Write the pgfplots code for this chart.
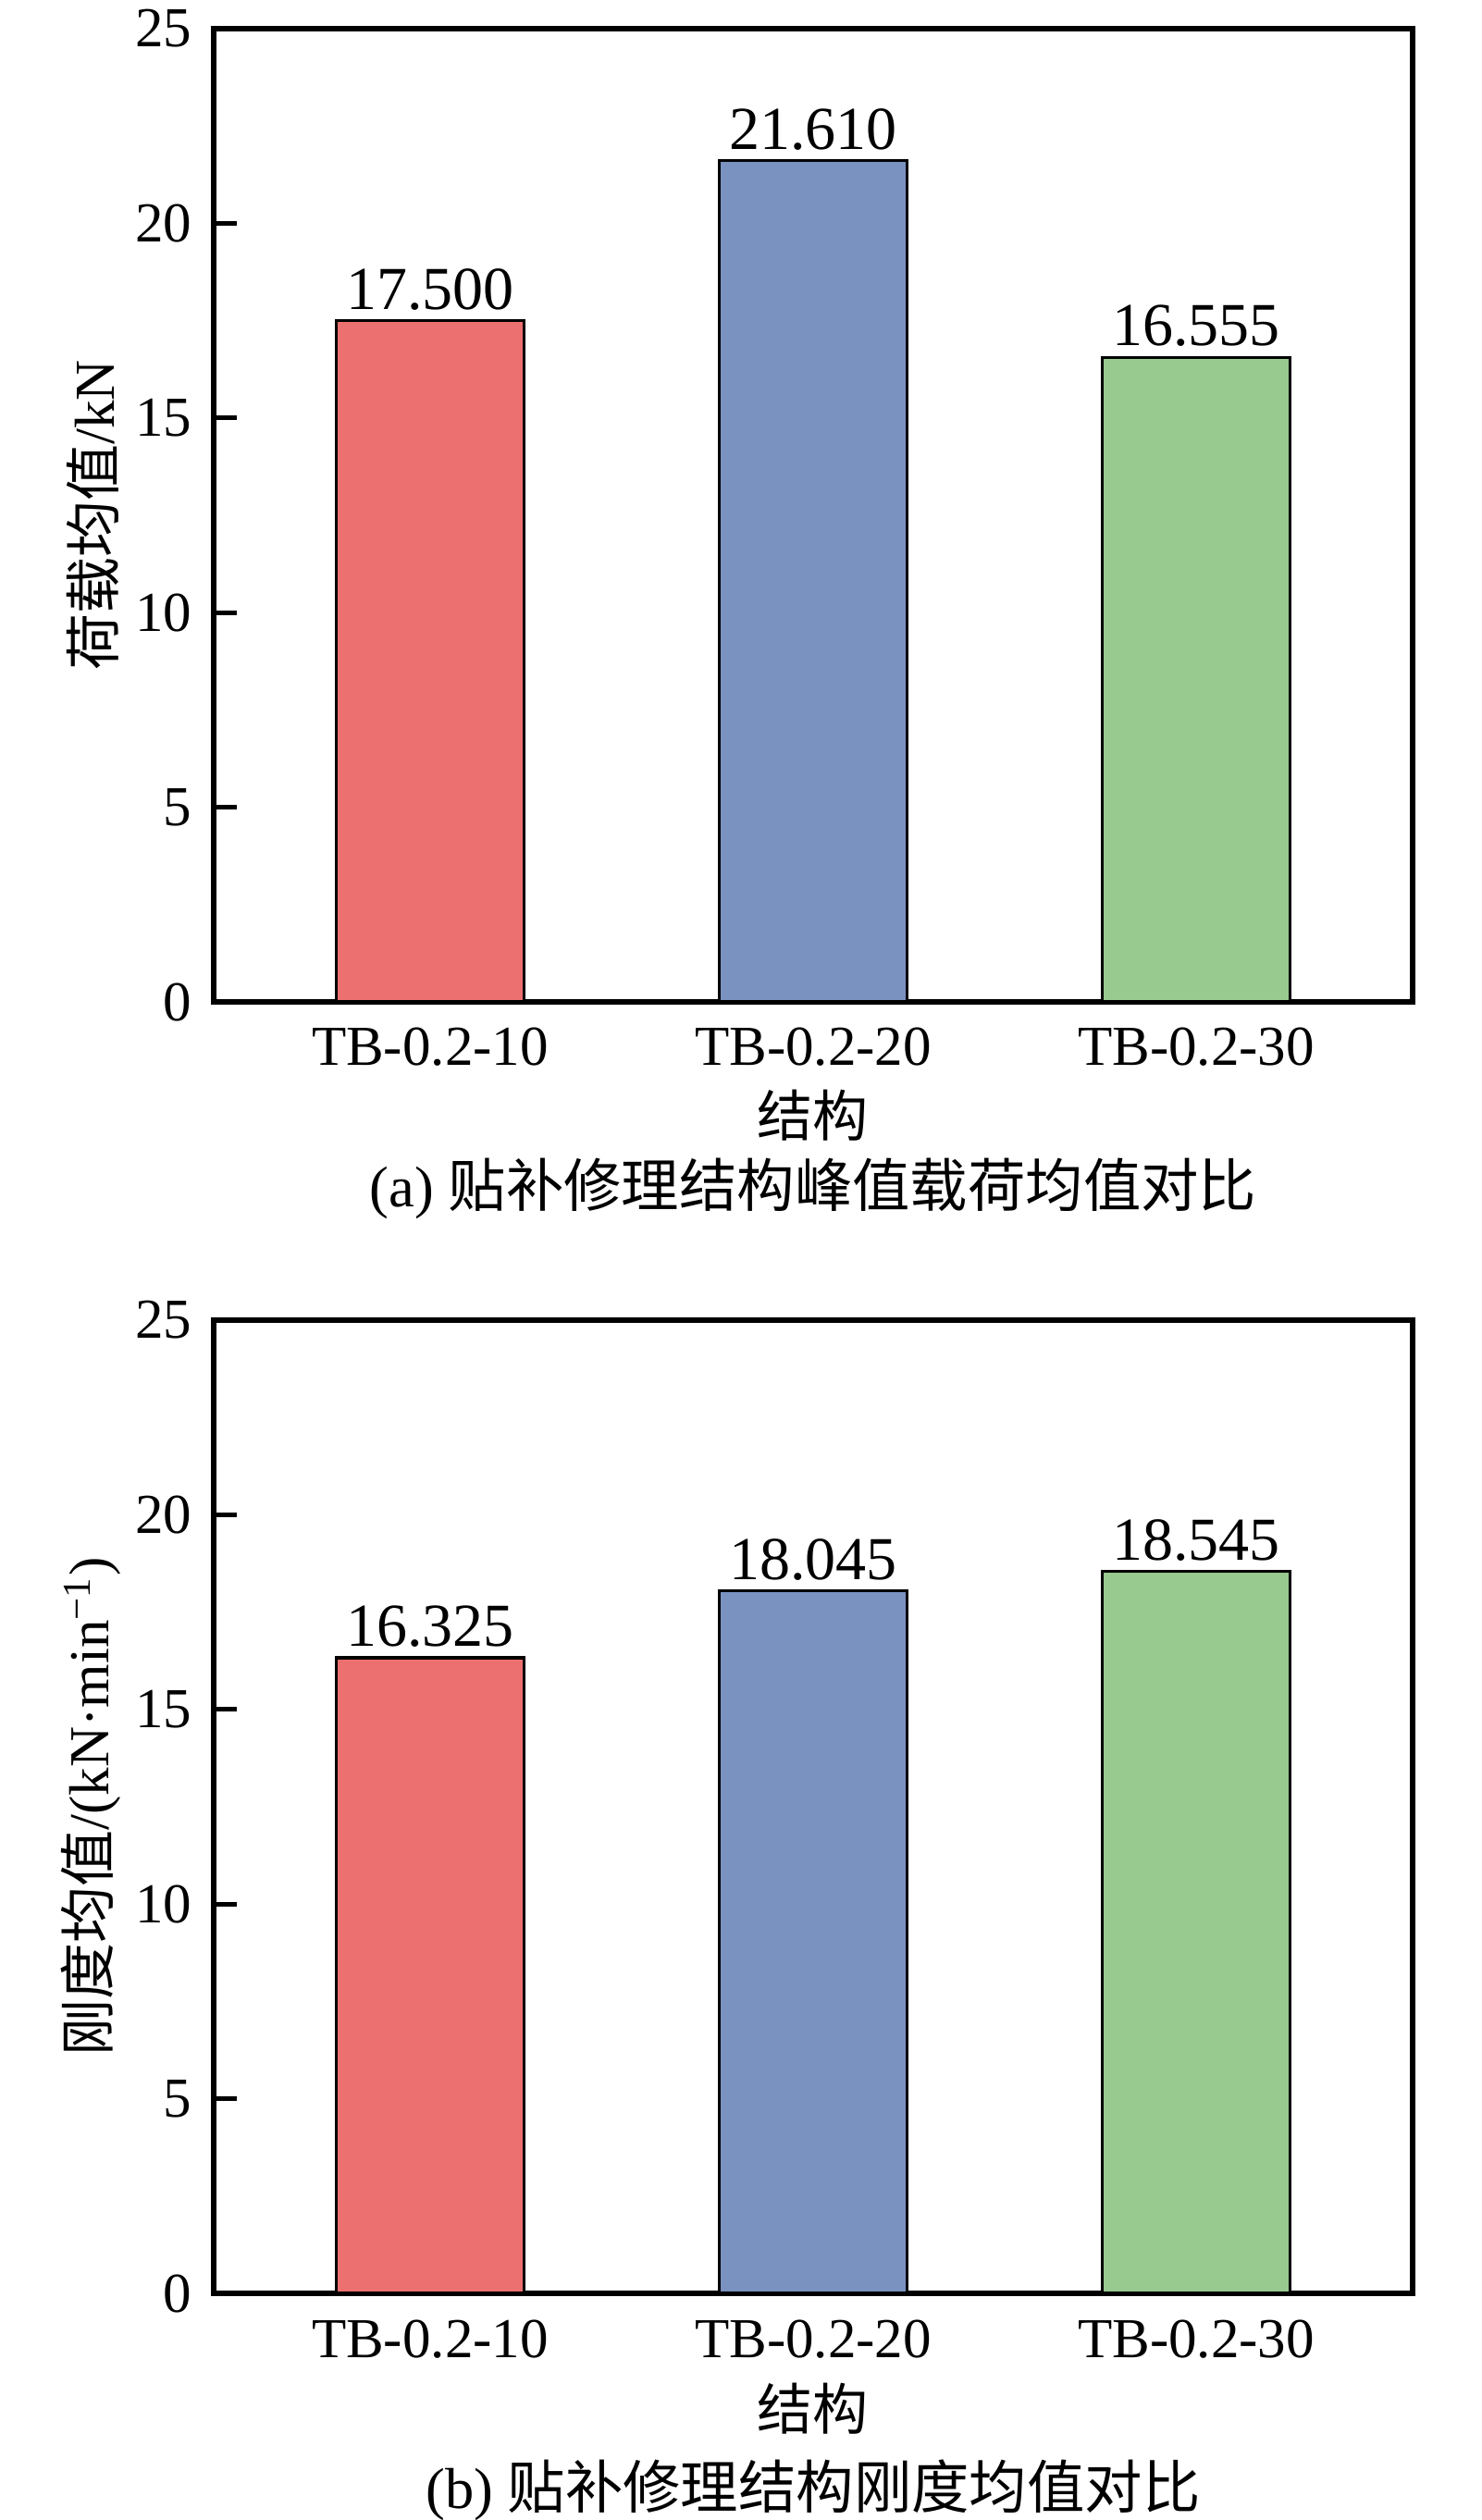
\documentclass[border=0pt]{standalone}
\usepackage{fontspec}
\setmainfont{Liberation Serif}
\newfontfamily\cjk{Noto Sans CJK SC}
\usepackage{pgfplots}
\pgfplotsset{compat=1.18}
\definecolor{barred}{HTML}{EC706F}
\definecolor{barblue}{HTML}{7A92C0}
\definecolor{bargreen}{HTML}{98C98F}
\newcommand{\tfont}{\fontsize{15.25pt}{18pt}\selectfont}
\newcommand{\vfont}{\fontsize{16.5pt}{19pt}\selectfont}
\newcommand{\cfont}{\fontsize{15pt}{18pt}\selectfont\cjk}
\newcommand{\capfont}{\fontsize{15.6pt}{19pt}\selectfont}
\pgfplotsset{
 panel/.style={
  scale only axis, width=324pt, height=263pt,
  xmin=-0.565, xmax=2.565, ymin=0, ymax=25,
  xtick={0,1,2}, xticklabels={TB-0.2-10,TB-0.2-20,TB-0.2-30},
  ytick={0,5,...,25},
  ytick pos=left, xtick pos=bottom,
  tick align=inside,
  major tick length=6.25pt,
  ytick style={line width=1.3pt, black},
  xtick style={draw=none},
  axis line style={line width=1.3pt, black},
  /pgf/number format/assume math mode=true,
  tick label style={font=\tfont},
  yticklabel style={inner sep=0pt, xshift=-5.75pt},
  xticklabel style={inner sep=0pt, yshift=-6.9pt, anchor=north},
  xlabel style={font=\cfont, at={(axis description cs:0.5,0)}, anchor=center},
  ylabel style={font=\tfont, anchor=base},
  clip=false,
  point meta=y,
  nodes near coords={\pgfmathprintnumber[fixed,fixed zerofill,precision=3]{\pgfplotspointmeta}},
  every node near coord/.append style={font=\vfont, inner sep=0pt, yshift=2.5pt},
 },
 mybar/.style={ybar, bar width=0.49, bar shift=0pt, draw=black, line width=0.8pt, fill=#1},
}
\begin{document}
\begin{tikzpicture}
\useasboundingbox (0,0) rectangle (400.5pt,-681pt);
\begin{axis}[panel, name=pa, at={(57.75pt,-270.75pt)}, anchor=south west,
 ylabel={{\cjk 荷载均值}/kN},
 ylabel style={at={(axis description cs:-0.0833,0.5)}},
 xlabel={结构}, xlabel style={yshift=-30.75pt}]
\addplot[mybar=barred] coordinates {(0,17.500)};
\addplot[mybar=barblue] coordinates {(1,21.610)};
\addplot[mybar=bargreen] coordinates {(2,16.555)};
\end{axis}
\node[font=\capfont, anchor=center, inner sep=0pt] at ([yshift=-50.5pt]pa.south) {(a) {\cjk 贴补修理结构峰值载荷均值对比}};
\begin{axis}[panel, name=pb, at={(57.75pt,-619.75pt)}, anchor=south west,
 ylabel={{\cjk 刚度均值}/(kN·min\textsuperscript{−1})},
 ylabel style={at={(axis description cs:-0.0872,0.5)}},
 xlabel={结构}, xlabel style={yshift=-31.25pt}]
\addplot[mybar=barred] coordinates {(0,16.325)};
\addplot[mybar=barblue] coordinates {(1,18.045)};
\addplot[mybar=bargreen] coordinates {(2,18.545)};
\end{axis}
\node[font=\capfont, anchor=center, inner sep=0pt] at ([yshift=-53.25pt]pb.south) {(b) {\cjk 贴补修理结构刚度均值对比}};
\end{tikzpicture}
\end{document}
